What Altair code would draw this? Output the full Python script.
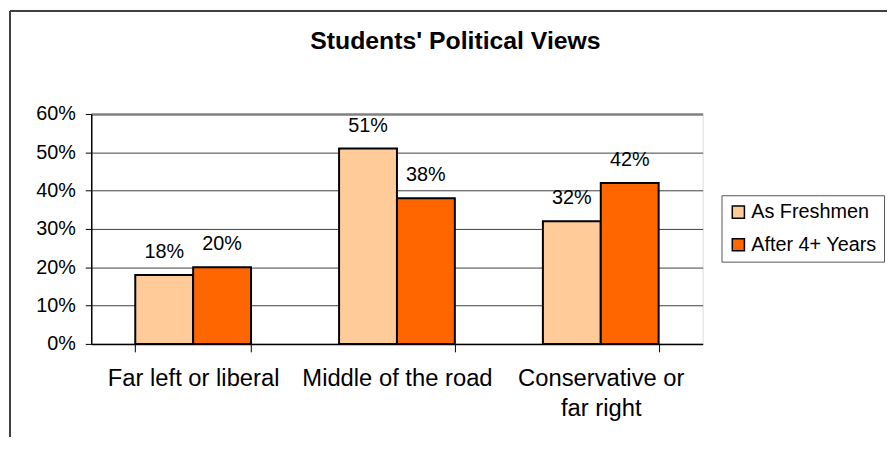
import altair as alt
import pandas as pd

categories = ["Far left or liberal", "Middle of the road", "Conservative or far right"]
series = ["As Freshmen", "After 4+ Years"]
freshmen = [0.18, 0.51, 0.32]
after_4_years = [0.20, 0.38, 0.42]
colors = ["#FFCC99", "#FF6600"]
y_ticks = [0, 0.1, 0.2, 0.3, 0.4, 0.5, 0.6]
title_text = "Students' Political Views"

rows = []
for i, c in enumerate(categories):
    rows.append({"category": c, "series": series[0], "value": freshmen[i]})
    rows.append({"category": c, "series": series[1], "value": after_4_years[i]})
df = pd.DataFrame(rows)

FONT = "Liberation Sans"
W, H = 617, 232

x_enc = alt.X(
    "category:N", sort=categories, title=None,
    scale=alt.Scale(paddingInner=0.432, paddingOuter=0.216),
    axis=alt.Axis(
        labelAngle=0, tickBand="extent", grid=False,
        domainColor="black", domainWidth=1.5,
        tickColor="black", tickSize=8, tickWidth=1,
        labelFont=FONT, labelFontSize=24, labelColor="black",
        labelPadding=15, labelLineHeight=30, labelLimit=400,
        labelOverlap=False,
        labelExpr="datum.value == 'Conservative or far right' ? ['Conservative or', 'far right'] : datum.label",
    ),
)
xoff_enc = alt.XOffset("series:N", sort=series, scale=alt.Scale(paddingInner=0, paddingOuter=0))
y_enc = alt.Y(
    "value:Q", title=None,
    scale=alt.Scale(domain=[0, 0.6], nice=False, zero=True),
    axis=alt.Axis(
        values=y_ticks, tickCount=20, format=".0%", labelOverlap=False,
        domainColor="black", domainWidth=1.5,
        tickColor="black", tickSize=6, tickWidth=1,
        labelFont=FONT, labelFontSize=20, labelColor="black", labelPadding=10,
        gridColor={"condition": {"test": "datum.value >= 0.6", "value": "#808080"}, "value": "#404040"},
        gridWidth={"condition": {"test": "datum.value >= 0.6", "value": 2.5}, "value": 1},
    ),
)
color_enc = alt.Color(
    "series:N", sort=series,
    scale=alt.Scale(domain=series, range=colors),
    legend=alt.Legend(
        title=None, orient="none", legendX=636, legendY=82,
        symbolType="square", symbolSize=150, symbolStrokeColor="black", symbolStrokeWidth=1.5,
        labelFont=FONT, labelFontSize=20, labelColor="black", labelOffset=3,
        strokeColor="#555555", fillColor="white", padding=7, rowPadding=13,
    ),
)

bars = alt.Chart(df).mark_bar(stroke="black", strokeWidth=2).encode(
    x=x_enc, xOffset=xoff_enc, y=y_enc, color=color_enc
)
labels = alt.Chart(df).mark_text(
    font=FONT, fontSize=20, color="black", baseline="alphabetic", dy=-17
).encode(
    x=x_enc,
    xOffset=xoff_enc,
    y=y_enc,
    text=alt.Text("value:Q", format=".0%"),
)

frame_df = pd.DataFrame({"k": [0]})
frame_left = alt.Chart(frame_df).mark_rule(color="#404040", strokeWidth=2).encode(
    x=alt.value(-82), y=alt.value(-104), y2=alt.value(H + 110)
)
frame_top = alt.Chart(frame_df).mark_rule(color="#404040", strokeWidth=2).encode(
    x=alt.value(-82), x2=alt.value(W + 190), y=alt.value(-104)
)

chart = alt.layer(bars, labels, frame_left, frame_top).properties(
    width=W, height=H,
    title=alt.TitleParams(
        title_text, font=FONT, fontSize=25, fontWeight="bold", color="black",
        anchor="middle", frame="group", dx=59, dy=64, offset=0, baseline="alphabetic",
    ),
    autosize=alt.AutoSizeParams(type="none"),
    padding={"left": 84, "top": 105, "right": 186, "bottom": 92},
).configure_view(
    stroke="#808080", strokeWidth=2
).configure(background="white")

chart.save("out.html", embed_options={"renderer": "svg", "actions": False})
